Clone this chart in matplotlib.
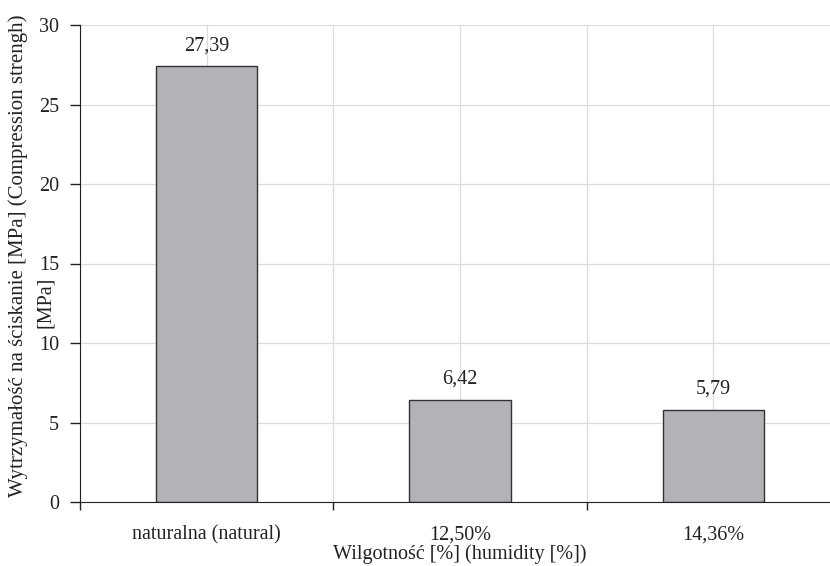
import matplotlib as mpl
mpl.use('Agg')
from matplotlib import pyplot as plt
import numpy as np

plt.rcParams['font.family'] = ['Liberation Serif', 'DejaVu Serif']

# data
categories = ['naturalna (natural)', '12,50%', '14,36%']
values = [27.39, 6.42, 5.79]
value_labels = ['27,39', '6,42', '5,79']
yticks = [0, 5, 10, 15, 20, 25, 30]

fs = 14.5

fig = plt.figure(figsize=(8.30, 5.66), dpi=100)
# axes runs a bit past the right edge, like the original
ax = fig.add_axes([80/830, 64/566, 760/830, 477/566])

x = np.arange(len(categories))
ax.bar(x, values, width=0.4, color='#b2b3b6', edgecolor='#333333', linewidth=1.0, zorder=3)

for xi, v, lab in zip(x, values, value_labels):
    ax.annotate(lab, (xi, v), xytext=(0, 8), textcoords='offset points',
                ha='center', va='bottom', fontsize=fs, color='#222222')

ax.set_xlim(-0.5, 2.5)
ax.set_ylim(0, 30)
ax.set_yticks(yticks)
ax.set_yticklabels([str(t) for t in yticks])

# category labels centred, ticks on the boundaries
ax.set_xticks(x)
ax.set_xticklabels(categories)
ax.set_xticks([-0.5, 0.5, 1.5], minor=True)
ax.tick_params(axis='x', which='major', length=0, pad=17, labelsize=fs, labelcolor='#222222')
ax.tick_params(axis='x', which='minor', length=6, width=1, direction='out', color='#222222')
ax.tick_params(axis='y', length=7, width=1, labelsize=fs, color='#222222', labelcolor='#222222', pad=8)

# grid at centres and boundaries
for gx in [-0.5, 0, 0.5, 1, 1.5, 2]:
    ax.axvline(gx, color='#dcdcdc', linewidth=0.9, zorder=0)
for gy in yticks[1:]:
    ax.axhline(gy, color='#dcdcdc', linewidth=0.9, zorder=0)

for s in ['top', 'right']:
    ax.spines[s].set_visible(False)
ax.spines['left'].set_color('#222222')
ax.spines['bottom'].set_color('#222222')
ax.spines['left'].set_zorder(4)
ax.spines['bottom'].set_zorder(4)

# y label: first line as axis label, the wrapped "[MPa]" sits lower, below the 15 tick
ax.set_ylabel('Wytrzymałość na ściskanie [MPa] (Compression strengh)',
              fontsize=15, color='#222222')
ax.yaxis.set_label_coords(-0.069, 0.516)
fig.text(45/830, 1 - 302/566, '[MPa]', rotation=90, ha='center', va='center',
         fontsize=fs, color='#222222')

ax.set_xlabel('Wilgotność [%] (humidity [%])', fontsize=fs, color='#222222')
ax.xaxis.set_label_coords(0.5, -0.088)

plt.savefig('out.png', dpi=100)
plt.close()
